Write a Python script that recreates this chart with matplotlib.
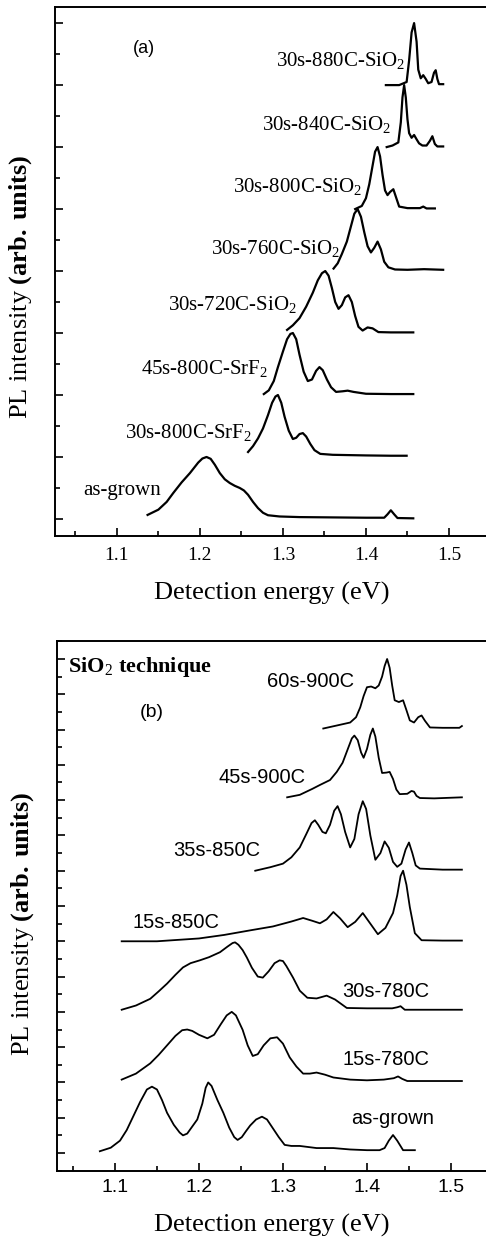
import matplotlib
matplotlib.use('Agg')
import matplotlib.pyplot as plt
from matplotlib.ticker import MultipleLocator

plt.rcParams['mathtext.fontset'] = 'custom'
plt.rcParams['mathtext.rm'] = 'Liberation Serif'
plt.rcParams['mathtext.bf'] = 'Liberation Serif:bold'
plt.rcParams['mathtext.sf'] = 'Liberation Sans'

SERIF = 'Liberation Serif'
SANS = 'Liberation Sans'

# ---------------- panel (a) data: energy (eV), normalised PL (tick units) ----
labels_a = ['as-grown', '30s-800C-SrF$_2$', '45s-800C-SrF$_2$', '30s-720C-SiO$_2$',
            '30s-760C-SiO$_2$', '30s-800C-SiO$_2$', '30s-840C-SiO$_2$', '30s-880C-SiO$_2$']
offsets_a = [0, 2, 4, 6, 8, 10, 12, 14]

e_a_asgrown = [1.137, 1.150, 1.160, 1.168, 1.178, 1.188, 1.198, 1.203, 1.208, 1.213, 1.218,
               1.224, 1.230, 1.236, 1.242, 1.248, 1.253, 1.258, 1.264, 1.270, 1.276, 1.282,
               1.296, 1.32, 1.36, 1.40, 1.422, 1.426, 1.430, 1.434, 1.438, 1.457]
i_a_asgrown = [0.13, 0.30, 0.55, 0.84, 1.18, 1.48, 1.82, 1.95, 2.00, 1.94, 1.75,
               1.48, 1.28, 1.16, 1.07, 1.00, 0.92, 0.78, 0.55, 0.35, 0.20, 0.12,
               0.08, 0.06, 0.05, 0.04, 0.04, 0.15, 0.28, 0.15, 0.03, 0.02]

e_a_30s800srf = [1.258, 1.264, 1.270, 1.276, 1.282, 1.287, 1.291, 1.294, 1.298, 1.302, 1.307,
                 1.312, 1.316, 1.320, 1.324, 1.328, 1.333, 1.338, 1.345, 1.36, 1.40, 1.43, 1.449]
i_a_30s800srf = [0.16, 0.35, 0.60, 0.92, 1.35, 1.75, 1.95, 2.00, 1.75, 1.30, 0.85,
                 0.58, 0.62, 0.74, 0.77, 0.66, 0.42, 0.22, 0.10, 0.07, 0.05, 0.04, 0.04]

e_a_45s800srf = [1.277, 1.283, 1.289, 1.294, 1.300, 1.305, 1.309, 1.312, 1.316, 1.320, 1.325,
                 1.330, 1.335, 1.340, 1.344, 1.348, 1.353, 1.358, 1.364, 1.372, 1.378, 1.385,
                 1.40, 1.43, 1.457]
i_a_45s800srf = [0.03, 0.15, 0.45, 0.90, 1.40, 1.80, 1.97, 2.00, 1.80, 1.30, 0.75,
                 0.45, 0.50, 0.78, 0.90, 0.80, 0.50, 0.25, 0.10, 0.12, 0.14, 0.10,
                 0.04, 0.03, 0.03]

e_a_720 = [1.305, 1.312, 1.320, 1.328, 1.336, 1.342, 1.347, 1.351, 1.355, 1.359, 1.363, 1.367,
           1.371, 1.375, 1.379, 1.383, 1.387, 1.391, 1.396, 1.402, 1.408, 1.415, 1.43, 1.457]
i_a_720 = [0.10, 0.25, 0.48, 0.85, 1.30, 1.70, 1.93, 2.00, 1.85, 1.45, 1.00, 0.78,
           0.90, 1.15, 1.22, 1.00, 0.55, 0.20, 0.08, 0.18, 0.15, 0.03, 0.02, 0.02]

e_a_760 = [1.361, 1.366, 1.371, 1.377, 1.382, 1.386, 1.390, 1.394, 1.398, 1.402, 1.406, 1.410,
           1.414, 1.418, 1.422, 1.427, 1.435, 1.45, 1.47, 1.493]
i_a_760 = [0.08, 0.25, 0.55, 0.95, 1.45, 1.85, 2.00, 1.75, 1.25, 0.80, 0.60, 0.75,
           0.95, 0.70, 0.30, 0.12, 0.05, 0.04, 0.06, 0.04]

e_a_800 = [1.387, 1.395, 1.400, 1.404, 1.408, 1.411, 1.414, 1.417, 1.420, 1.423, 1.426, 1.429,
           1.433, 1.436, 1.440, 1.45, 1.465, 1.469, 1.473, 1.483]
i_a_800 = [0.00, 0.10, 0.35, 0.80, 1.40, 1.85, 2.00, 1.70, 1.10, 0.60, 0.45, 0.55,
           0.64, 0.40, 0.08, 0.03, 0.03, 0.08, 0.02, 0.02]

e_a_840 = [1.425, 1.432, 1.439, 1.442, 1.444, 1.446, 1.448, 1.450, 1.452, 1.455, 1.458, 1.461,
           1.464, 1.468, 1.473, 1.477, 1.480, 1.483, 1.486, 1.493]
i_a_840 = [0.00, 0.05, 0.15, 0.80, 1.60, 2.00, 1.60, 0.90, 0.45, 0.30, 0.39, 0.25,
           0.12, 0.05, 0.05, 0.20, 0.35, 0.10, 0.02, 0.02]

e_a_880 = [1.424, 1.440, 1.449, 1.452, 1.455, 1.458, 1.461, 1.463, 1.466, 1.469, 1.472, 1.475,
           1.479, 1.482, 1.484, 1.486, 1.488, 1.493]
i_a_880 = [0.00, 0.00, 0.10, 0.80, 1.70, 2.00, 1.40, 0.50, 0.22, 0.32, 0.20, 0.06,
           0.10, 0.40, 0.48, 0.20, 0.03, 0.03]

energies_a = [e_a_asgrown, e_a_30s800srf, e_a_45s800srf, e_a_720, e_a_760, e_a_800, e_a_840, e_a_880]
intens_a = [i_a_asgrown, i_a_30s800srf, i_a_45s800srf, i_a_720, i_a_760, i_a_800, i_a_840, i_a_880]

# ---------------- panel (b) data ----------------
labels_b = ['as-grown', '15s-780C', '30s-780C', '15s-850C', '35s-850C', '45s-900C', '60s-900C']
offsets_b = [0, 2, 4, 6, 8, 10, 12]

e_b_asgrown = [1.082, 1.095, 1.106, 1.114, 1.121, 1.130, 1.138, 1.144, 1.150, 1.156, 1.162, 1.170,
               1.177, 1.181, 1.186, 1.192, 1.198, 1.204, 1.208, 1.211, 1.215, 1.222, 1.229, 1.236,
               1.242, 1.246, 1.251, 1.256, 1.261, 1.268, 1.275, 1.281, 1.288, 1.295, 1.302, 1.310,
               1.320, 1.340, 1.360, 1.380, 1.400, 1.415, 1.421, 1.426, 1.431, 1.436, 1.443, 1.457]
i_b_asgrown = [0.05, 0.15, 0.35, 0.65, 1.00, 1.45, 1.80, 1.88, 1.80, 1.50, 1.14, 0.80,
               0.58, 0.50, 0.55, 0.75, 0.95, 1.40, 1.85, 2.00, 1.90, 1.50, 1.14, 0.72,
               0.45, 0.37, 0.45, 0.62, 0.78, 0.95, 1.03, 0.95, 0.70, 0.45, 0.23, 0.20,
               0.20, 0.14, 0.14, 0.10, 0.08, 0.08, 0.14, 0.35, 0.51, 0.35, 0.08, 0.08]

e_b_15s780 = [1.108, 1.125, 1.142, 1.152, 1.162, 1.172, 1.180, 1.186, 1.192, 1.200, 1.210, 1.218,
              1.226, 1.233, 1.239, 1.244, 1.252, 1.258, 1.264, 1.270, 1.277, 1.285, 1.293, 1.300,
              1.308, 1.316, 1.324, 1.332, 1.340, 1.350, 1.360, 1.380, 1.400, 1.420, 1.432, 1.437,
              1.442, 1.448, 1.480, 1.513]
i_b_15s780 = [0.08, 0.25, 0.54, 0.78, 1.05, 1.32, 1.48, 1.50, 1.46, 1.35, 1.25, 1.35,
              1.65, 1.90, 2.00, 1.90, 1.49, 1.05, 0.75, 0.80, 1.05, 1.25, 1.28, 1.10,
              0.71, 0.45, 0.25, 0.25, 0.28, 0.22, 0.14, 0.08, 0.06, 0.08, 0.12, 0.17,
              0.10, 0.04, 0.04, 0.04]

e_b_30s780 = [1.108, 1.125, 1.142, 1.152, 1.162, 1.172, 1.181, 1.190, 1.201, 1.212, 1.225, 1.234,
              1.240, 1.243, 1.247, 1.252, 1.257, 1.263, 1.270, 1.276, 1.283, 1.290, 1.296, 1.300,
              1.304, 1.312, 1.320, 1.329, 1.340, 1.352, 1.362, 1.376, 1.400, 1.430, 1.436, 1.440,
              1.445, 1.480, 1.513]
i_b_30s780 = [0.06, 0.18, 0.37, 0.58, 0.80, 1.05, 1.26, 1.38, 1.46, 1.55, 1.69, 1.85,
              1.95, 1.97, 1.90, 1.75, 1.54, 1.25, 1.00, 0.97, 1.15, 1.38, 1.46, 1.44,
              1.30, 0.97, 0.60, 0.40, 0.38, 0.46, 0.35, 0.11, 0.10, 0.10, 0.13, 0.16,
              0.06, 0.06, 0.06]

e_b_15s850 = [1.108, 1.150, 1.200, 1.230, 1.261, 1.288, 1.310, 1.324, 1.335, 1.344, 1.352, 1.360,
              1.368, 1.377, 1.386, 1.395, 1.404, 1.413, 1.422, 1.431, 1.436, 1.440, 1.443, 1.447,
              1.451, 1.457, 1.465, 1.490, 1.513]
i_b_15s850 = [0.00, 0.00, 0.08, 0.18, 0.31, 0.42, 0.56, 0.66, 0.58, 0.51, 0.62, 0.83,
              0.65, 0.40, 0.55, 0.80, 0.50, 0.20, 0.38, 0.80, 1.30, 1.85, 2.00, 1.60,
              0.97, 0.23, 0.03, 0.02, 0.02]

e_b_35s850 = [1.267, 1.285, 1.300, 1.310, 1.320, 1.328, 1.334, 1.338, 1.342, 1.347, 1.351, 1.356,
              1.361, 1.365, 1.369, 1.374, 1.380, 1.385, 1.390, 1.395, 1.399, 1.404, 1.410, 1.416,
              1.421, 1.426, 1.431, 1.436, 1.441, 1.446, 1.450, 1.454, 1.458, 1.463, 1.490, 1.513]
i_b_35s850 = [0.00, 0.10, 0.20, 0.38, 0.66, 1.05, 1.35, 1.43, 1.30, 1.10, 1.06, 1.30,
              1.70, 1.83, 1.60, 1.10, 0.66, 0.90, 1.60, 1.97, 1.75, 1.00, 0.31, 0.50,
              0.83, 0.65, 0.25, 0.11, 0.20, 0.60, 0.80, 0.50, 0.15, 0.06, 0.03, 0.03]

e_b_45s900 = [1.305, 1.320, 1.335, 1.344, 1.356, 1.364, 1.371, 1.378, 1.382, 1.385, 1.389, 1.393,
              1.396, 1.400, 1.404, 1.407, 1.410, 1.414, 1.418, 1.423, 1.427, 1.431, 1.435, 1.439,
              1.448, 1.453, 1.456, 1.459, 1.463, 1.480, 1.513]
i_b_45s900 = [0.08, 0.15, 0.32, 0.43, 0.57, 0.80, 1.06, 1.50, 1.75, 1.83, 1.70, 1.35,
              1.20, 1.45, 1.85, 2.03, 1.80, 1.20, 0.77, 0.78, 0.80, 0.60, 0.30, 0.17,
              0.18, 0.26, 0.24, 0.12, 0.06, 0.05, 0.08]

e_b_60s900 = [1.348, 1.365, 1.380, 1.387, 1.392, 1.396, 1.400, 1.405, 1.410, 1.414, 1.418, 1.421,
              1.424, 1.427, 1.430, 1.433, 1.438, 1.443, 1.447, 1.451, 1.456, 1.461, 1.465, 1.469,
              1.475, 1.490, 1.510, 1.513]
i_b_60s900 = [0.03, 0.12, 0.20, 0.35, 0.63, 0.95, 1.20, 1.22, 1.17, 1.25, 1.50, 1.80,
              2.00, 1.75, 1.25, 0.83, 0.78, 0.83, 0.55, 0.26, 0.20, 0.35, 0.40, 0.25,
              0.06, 0.05, 0.05, 0.10]

energies_b = [e_b_asgrown, e_b_15s780, e_b_30s780, e_b_15s850, e_b_35s850, e_b_45s900, e_b_60s900]
intens_b = [i_b_asgrown, i_b_15s780, i_b_30s780, i_b_15s850, i_b_35s850, i_b_45s900, i_b_60s900]

# ---------------- figure ----------------
W, H = 486, 1240
fig = plt.figure(figsize=(W / 100, H / 100), dpi=100)


def style_axes(ax, ymajor, yminor, tickfont, ticksize, pad):
    for s in ['left', 'top', 'bottom']:
        ax.spines[s].set_linewidth(1.4)
    ax.spines['right'].set_visible(False)
    ax.xaxis.set_major_locator(MultipleLocator(0.1))
    ax.xaxis.set_minor_locator(MultipleLocator(0.05))
    ax.yaxis.set_major_locator(MultipleLocator(ymajor))
    ax.yaxis.set_minor_locator(MultipleLocator(yminor))
    ax.tick_params(which='both', direction='in', top=False, right=False, width=1.2)
    ax.tick_params(which='major', length=6)
    ax.tick_params(which='minor', length=3.5)
    ax.tick_params(axis='x', pad=pad)
    ax.set_yticklabels([])
    for t in ax.get_xticklabels():
        t.set_family(tickfont)
        t.set_fontsize(ticksize)


# panel (a)
axa = fig.add_axes([55 / W, 1 - 536 / H, 1 - 55 / W, (536 - 7) / H])
for e, i, off in zip(energies_a, intens_a, offsets_a):
    axa.plot(e, [v + off for v in i], color='black', lw=1.6)
axa.set_xlim(1.0255, 1.5446)
axa.set_ylim(-0.55, 16.52)
axa.set_xticks([1.1, 1.2, 1.3, 1.4, 1.5])
axa.set_xticklabels(['1.1', '1.2', '1.3', '1.4', '1.5'])
style_axes(axa, 2, 1, SERIF, 14, 8)

lab_a_pos = [(1.059, 0.77, 'left'), (1.263, 2.60, 'right'), (1.282, 4.65, 'right'),
             (1.317, 6.74, 'right'), (1.369, 8.55, 'right'), (1.396, 10.53, 'right'),
             (1.431, 12.53, 'right'), (1.447, 14.59, 'right')]
for lab, (x, y, ha) in zip(labels_a, lab_a_pos):
    axa.text(x, y, lab, family=SERIF, fontsize=15, ha=ha, va='baseline')
axa.text(1.119, 15.04, '(a)', family=SANS, fontsize=13, ha='left', va='baseline')

# panel (b)
axb = fig.add_axes([57 / W, 1 - 1171 / H, 1 - 57 / W, (1171 - 641) / H])
for e, i, off in zip(energies_b, intens_b, offsets_b):
    axb.plot(e, [v + off for v in i], color='black', lw=1.3)
axb.set_xlim(1.031, 1.5417)
axb.set_ylim(-0.51, 14.51)
axb.set_xticks([1.1, 1.2, 1.3, 1.4, 1.5])
axb.set_xticklabels(['1.1', '1.2', '1.3', '1.4', '1.5'])
style_axes(axb, 1, 0.5, SANS, 14, 6)

lab_b_pos = [(1.381, 0.82), (1.371, 2.49), (1.370, 4.43), (1.121, 6.37),
             (1.169, 8.42), (1.223, 10.49), (1.281, 13.21)]
for lab, (x, y) in zip(labels_b, lab_b_pos):
    axb.text(x, y, lab, family=SANS, fontsize=14.5, ha='left', va='baseline')
axb.text(1.130, 12.36, '(b)', family=SANS, fontsize=14, ha='left', va='baseline')
axb.text(1.044, 13.64, r'SiO$_2$ technique', family=SERIF, fontsize=16,
         fontweight='bold', ha='left', va='baseline')

# axis labels
ylab = r'PL intensity $\mathbf{(arb.\,units)}$'
fig.text(21 / W, 1 - 287 / H, ylab, family=SERIF, fontsize=19, rotation=90,
         ha='center', va='center')
fig.text(23 / W, 1 - 924 / H, ylab, family=SERIF, fontsize=19, rotation=90,
         ha='center', va='center')
fig.text(272 / W, 1 - 593 / H, 'Detection energy (eV)', family=SERIF, fontsize=19,
         ha='center', va='center')
fig.text(272 / W, 1 - 1225 / H, 'Detection energy (eV)', family=SERIF, fontsize=19,
         ha='center', va='center')

fig.savefig('out.png', dpi=100)
